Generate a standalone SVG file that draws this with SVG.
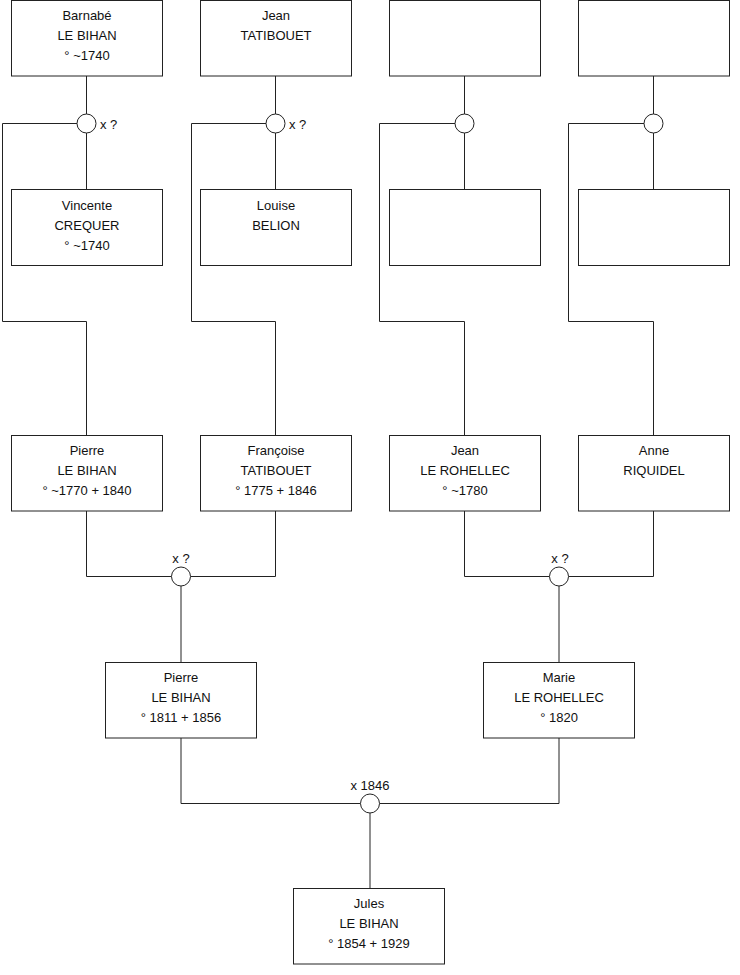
<svg xmlns="http://www.w3.org/2000/svg" width="740" height="975" viewBox="0 0 740 975">
<style>
.box{fill:#fff;stroke:#222;stroke-width:1}
.ln{fill:none;stroke:#222;stroke-width:1}
.ring{fill:#fff;stroke:#222;stroke-width:1}
text{font-family:"Liberation Sans",Arial,sans-serif;font-size:13px;fill:#111;text-anchor:middle}
.lbl{text-anchor:start}
</style>
<rect width="740" height="975" fill="#fff"/>
<g id="connectors">
  <path class="ln" d="M86.5 76V114M86.5 133V189M77 123.5H2.5V321.5H86.5V435"/>
  <path class="ln" d="M275.5 76V114M275.5 133V189M266 123.5H191.5V321.5H275.5V435"/>
  <path class="ln" d="M464.5 76V114M464.5 133V189M455 123.5H379.5V321.5H464.5V435"/>
  <path class="ln" d="M653.5 76V114M653.5 133V189M644 123.5H568.5V321.5H653.5V435"/>
  <path class="ln" d="M86.5 511V576.5H171.5M190.5 576.5H275.5V511M181 586V662"/>
  <path class="ln" d="M464.5 511V576.5H549.5M568.5 576.5H653.5V511M559 586V662"/>
  <path class="ln" d="M181 738V803.5H360.5M379.5 803.5H559V738M370 813V888"/>
  <circle class="ring" cx="86.5" cy="123.5" r="9.5"/>
  <circle class="ring" cx="275.5" cy="123.5" r="9.5"/>
  <circle class="ring" cx="464.5" cy="123.5" r="9.5"/>
  <circle class="ring" cx="653.5" cy="123.5" r="9.5"/>
  <circle class="ring" cx="181" cy="576.5" r="9.5"/>
  <circle class="ring" cx="559" cy="576.5" r="9.5"/>
  <circle class="ring" cx="370" cy="803.5" r="9.5"/>
  <text class="lbl" x="100" y="128.5">x ?</text>
  <text class="lbl" x="289" y="128.5">x ?</text>
  <text x="181" y="563">x ?</text>
  <text x="560" y="563">x ?</text>
  <text x="370" y="790">x 1846</text>
</g>
<g id="barnabe">
  <rect class="box" x="11.5" y="0.5" width="151" height="75.5"/>
  <text x="87" y="20">Barnabé</text><text x="87" y="40">LE BIHAN</text><text x="87" y="60">° ~1740</text>
</g>
<g id="jean-tatibouet">
  <rect class="box" x="200.5" y="0.5" width="151" height="75.5"/>
  <text x="276" y="20">Jean</text><text x="276" y="40">TATIBOUET</text>
</g>
<g id="unknown1"><rect class="box" x="389.5" y="0.5" width="151" height="75.5"/></g>
<g id="unknown2"><rect class="box" x="578.5" y="0.5" width="151" height="75.5"/></g>
<g id="vincente">
  <rect class="box" x="11.5" y="189.5" width="151" height="76"/>
  <text x="87" y="210">Vincente</text><text x="87" y="230">CREQUER</text><text x="87" y="250">° ~1740</text>
</g>
<g id="louise">
  <rect class="box" x="200.5" y="189.5" width="151" height="76"/>
  <text x="276" y="210">Louise</text><text x="276" y="230">BELION</text>
</g>
<g id="unknown3"><rect class="box" x="389.5" y="189.5" width="151" height="76"/></g>
<g id="unknown4"><rect class="box" x="578.5" y="189.5" width="151" height="76"/></g>
<g id="pierre1">
  <rect class="box" x="11.5" y="435.5" width="151" height="75.5"/>
  <text x="87" y="455">Pierre</text><text x="87" y="475">LE BIHAN</text><text x="87" y="495">° ~1770 + 1840</text>
</g>
<g id="francoise">
  <rect class="box" x="200.5" y="435.5" width="151" height="75.5"/>
  <text x="276" y="455">Françoise</text><text x="276" y="475">TATIBOUET</text><text x="276" y="495">° 1775 + 1846</text>
</g>
<g id="jean-rohellec">
  <rect class="box" x="389.5" y="435.5" width="151" height="75.5"/>
  <text x="465" y="455">Jean</text><text x="465" y="475">LE ROHELLEC</text><text x="465" y="495">° ~1780</text>
</g>
<g id="anne">
  <rect class="box" x="578.5" y="435.5" width="151" height="75.5"/>
  <text x="654" y="455">Anne</text><text x="654" y="475">RIQUIDEL</text>
</g>
<g id="pierre2">
  <rect class="box" x="105.5" y="662.5" width="151" height="75.5"/>
  <text x="181" y="682">Pierre</text><text x="181" y="702">LE BIHAN</text><text x="181" y="722">° 1811 + 1856</text>
</g>
<g id="marie">
  <rect class="box" x="483.5" y="662.5" width="151" height="75.5"/>
  <text x="559" y="682">Marie</text><text x="559" y="702">LE ROHELLEC</text><text x="559" y="722">° 1820</text>
</g>
<g id="jules">
  <rect class="box" x="293.5" y="888.5" width="151" height="75.5"/>
  <text x="369" y="908">Jules</text><text x="369" y="928">LE BIHAN</text><text x="369" y="948">° 1854 + 1929</text>
</g>
</svg>
